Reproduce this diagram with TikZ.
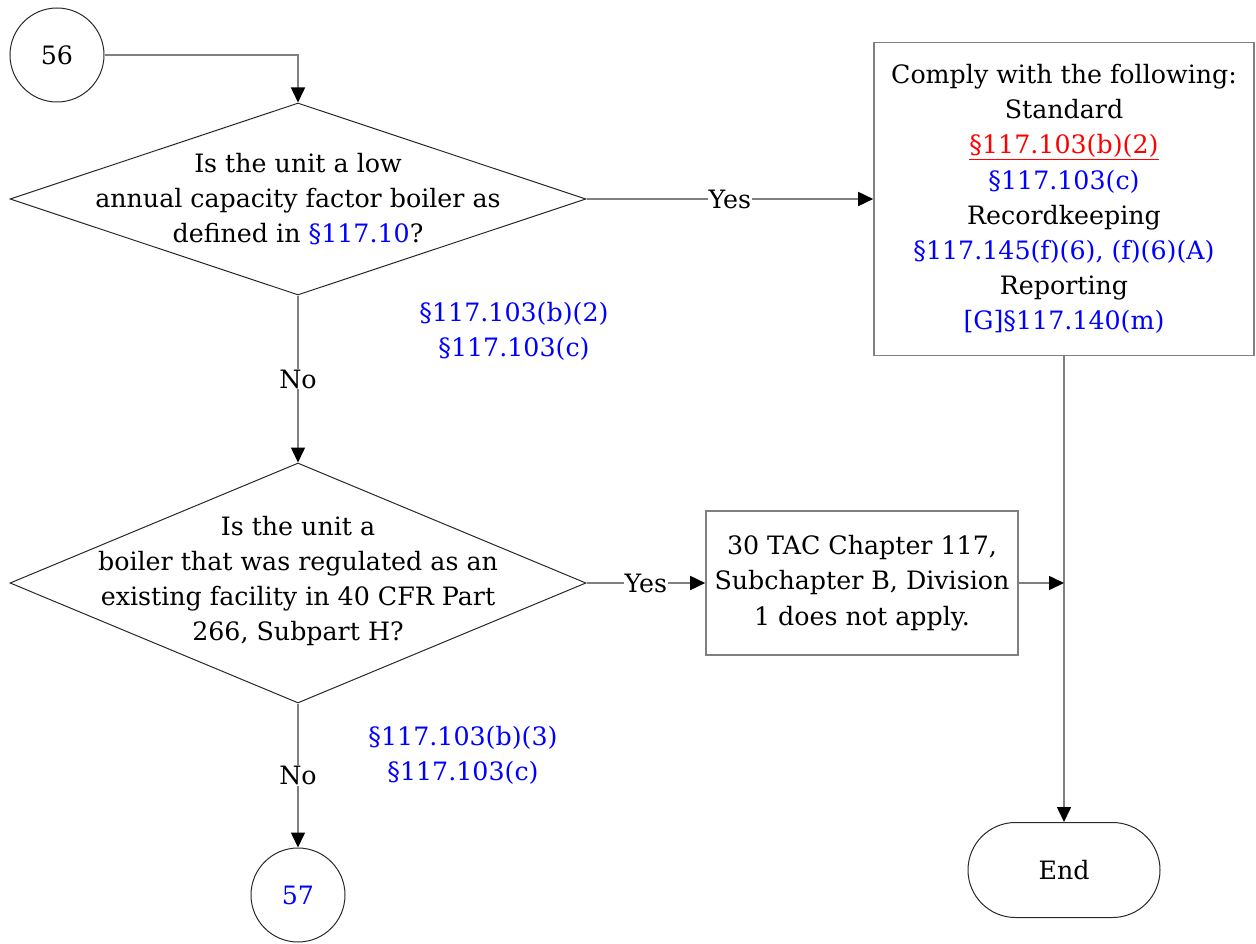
\documentclass[tikz,border=0pt]{standalone}
\usepackage{fontspec}
\setmainfont{DejaVu Serif}
\usetikzlibrary{arrows.meta,shapes.geometric,shapes.misc}
\definecolor{refblue}{RGB}{0,0,255}
\definecolor{refred}{RGB}{255,0,0}
\definecolor{lgrey}{RGB}{128,128,128}
\definecolor{dgrey}{RGB}{40,40,40}
\newsavebox{\ulbox}
\newcommand{\myredul}[1]{{\color{refred}\sbox{\ulbox}{#1}\rlap{\usebox{\ulbox}}\rule[-6pt]{\wd\ulbox}{1.3pt}}}
\begin{document}
\begin{tikzpicture}[x=1pt,y=-1pt,
  every node/.style={font=\fontsize{25.3}{35.2}\selectfont},
  conn/.style={draw=lgrey, line width=1.6pt, -{Triangle[length=15pt,width=14pt,color=black]}},
  lbl/.style={fill=white, inner sep=1pt},
  outl/.style={draw=dgrey, line width=1pt},
  boxstyle/.style={draw=lgrey, line width=1.6pt, align=center, inner sep=0pt},
  note/.style={align=center, text=refblue},
  conncircle/.style={circle, outl, minimum size=94pt, inner sep=0pt},
  decision/.style={diamond, outl, minimum width=576pt, minimum height=192pt, inner sep=0pt}
]
\useasboundingbox (0,0) rectangle (1256,944);

% nodes
\node[conncircle] (c56) at (57,55) {56};
\node[decision] (d1) at (298,199) {};
\node[align=center] (t1) at (298,199) {Is the unit a low\\annual capacity factor boiler as\\defined in \textcolor{refblue}{§117.10}?};

\node[boxstyle, minimum width=380pt, minimum height=313pt] (b1) at (1064,199)
  {Comply with the following:\\Standard\\\myredul{§117.103(b)(2)}\\\textcolor{refblue}{§117.103(c)}\\Recordkeeping\\\textcolor{refblue}{§117.145(f)(6), (f)(6)(A)}\\Reporting\\\textcolor{refblue}{[G]§117.140(m)}};

\node[note] (n1) at (514,331) {§117.103(b)(2)\\§117.103(c)};

\node[decision, minimum height=240pt] (d2) at (298,583) {};
\node[align=center] (t2) at (298,581) {Is the unit a\\boiler that was regulated as an\\existing facility in 40 CFR Part\\266, Subpart H?};

\node[boxstyle, minimum width=312pt, minimum height=144pt] (b2) at (862,583)
  {30 TAC Chapter 117,\\Subchapter B, Division\\1 does not apply.};

\node[note] (n2) at (463,755) {§117.103(b)(3)\\§117.103(c)};

\node[conncircle, text=refblue] (c57) at (298,895) {57};

\node[rounded rectangle, outl, minimum width=192pt, minimum height=95pt, inner sep=0pt] (end) at (1064,870) {End};

% connectors
\draw[conn] (c56.east) -| (d1.north);
\draw[conn] (d1.east) -- node[lbl] {Yes} (b1.west);
\draw[conn] (d1.south) -- node[lbl] {No} (d2.north);
\draw[conn] (d2.east) -- node[lbl] {Yes} (b2.west);
\draw[conn] (d2.south) -- node[lbl] {No} (c57.north);
\draw[conn] (b1.south) -- (end.north);
\coordinate (m) at (b1.south |- b2.east);
\draw[conn] (b2.east) -- (m);
\end{tikzpicture}
\end{document}
